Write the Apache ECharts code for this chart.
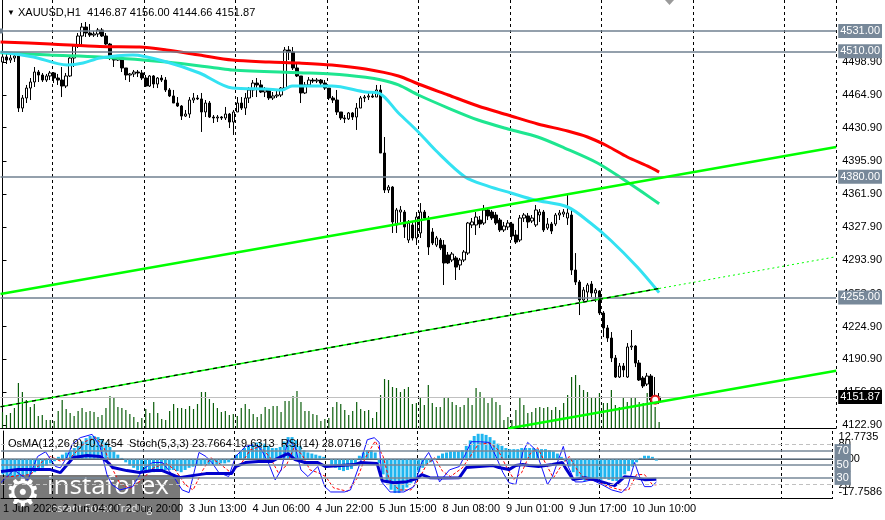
<!DOCTYPE html>
<html>
<head>
<meta charset="utf-8">
<script src="https://cdn.jsdelivr.net/npm/echarts@6/dist/echarts.min.js"></script>
<style>
  html, body { margin: 0; padding: 0; background: #fff; }
  #chart { width: 885px; height: 520px; }
</style>
</head>
<body>
<div id="chart"></div>
<script>
// ---- data ----
const symbolName = 'XAUUSD,H1'
const firstLabel = '1 Jun 2026'
const timeLabels = ['1 Jun 12:00', '2 Jun 04:00', '2 Jun 20:00', '3 Jun 13:00', '4 Jun 06:00', '4 Jun 22:00',
  '5 Jun 15:00', '8 Jun 08:00', '9 Jun 01:00', '9 Jun 17:00', '10 Jun 10:00']
const priceTicks = [4122.9, 4156.9, 4190.9, 4224.9, 4258.9, 4293.9, 4327.9, 4361.9, 4395.9, 4430.9, 4464.9, 4498.9]
const hLevels = [4531, 4510, 4380, 4255]
const oscLevels = [70, 50, 30]
const stochLevels = [80, 20]
const osmaScale = [12.7735, 0, -17.7586]
const osmaNow = -0.7454
const stochNow = [23.7664, 19.6313]
const rsiNow = 28.0716

// open, close, low, high
const candles = [
  [4498.9,4504.1,4488.5,4507.2],[4504.1,4500.9,4496.8,4508.2],[4500.9,4503.0,4497.8,4506.1],[4503.0,4505.1,4498.9,4509.2],
  [4505.1,4451.2,4447.1,4508.2],[4451.2,4461.6,4447.1,4464.7],[4461.6,4471.9,4456.4,4475.1],[4471.9,4478.2,4459.5,4482.3],
  [4478.2,4488.5,4473.0,4493.7],[4488.5,4485.4,4478.2,4490.6],[4485.4,4480.2,4478.2,4487.5],[4480.2,4484.4,4478.2,4486.5],
  [4484.4,4487.5,4480.2,4489.6],[4487.5,4482.3,4477.1,4488.5],[4482.3,4480.2,4475.1,4486.5],[4480.2,4474.0,4462.6,4493.7],
  [4474.0,4484.4,4471.9,4487.5],[4484.4,4503.0,4483.3,4505.1],[4503.0,4515.4,4493.7,4517.5],[4515.4,4525.8,4513.4,4528.9],
  [4525.8,4535.1,4516.5,4539.3],[4535.1,4528.9,4524.8,4540.3],[4528.9,4526.8,4524.8,4538.2],[4526.8,4527.9,4524.8,4531.0],
  [4527.9,4532.0,4524.8,4534.1],[4532.0,4525.8,4524.8,4534.1],[4525.8,4517.5,4516.5,4528.9],[4517.5,4503.0,4500.9,4518.6],
  [4503.0,4500.9,4493.7,4506.1],[4500.9,4503.0,4499.9,4504.1],[4503.0,4492.7,4488.5,4504.1],[4492.7,4485.4,4480.2,4492.7],
  [4485.4,4486.5,4478.2,4487.5],[4486.5,4488.5,4483.3,4490.6],[4488.5,4487.5,4483.3,4490.6],[4487.5,4482.3,4480.2,4490.6],
  [4482.3,4474.0,4473.0,4485.4],[4474.0,4484.4,4473.0,4485.4],[4484.4,4476.1,4471.9,4485.4],[4476.1,4482.3,4471.9,4483.3],
  [4482.3,4480.2,4478.2,4485.4],[4480.2,4469.9,4467.8,4483.3],[4469.9,4463.7,4462.6,4471.9],[4463.7,4456.4,4456.4,4469.9],
  [4456.4,4453.3,4452.3,4462.6],[4453.3,4442.9,4438.8,4454.3],[4442.9,4445.0,4441.9,4449.2],[4445.0,4459.5,4440.9,4462.6],
  [4459.5,4461.6,4456.4,4466.8],[4461.6,4460.6,4459.5,4464.7],[4460.6,4447.1,4426.4,4466.8],[4447.1,4456.4,4441.9,4459.5],
  [4456.4,4441.9,4440.9,4458.5],[4441.9,4440.9,4435.7,4444.0],[4440.9,4441.9,4436.7,4444.0],[4441.9,4440.9,4438.8,4442.9],
  [4440.9,4445.0,4438.8,4452.3],[4445.0,4436.7,4430.5,4446.1],[4436.7,4447.1,4423.3,4449.2],[4447.1,4456.4,4447.1,4462.6],
  [4456.4,4451.2,4449.2,4462.6],[4451.2,4461.6,4444.0,4466.8],[4461.6,4469.9,4456.4,4473.0],[4469.9,4477.1,4462.6,4480.2],
  [4477.1,4475.1,4462.6,4482.3],[4475.1,4467.8,4466.8,4480.2],[4467.8,4469.9,4462.6,4473.0],[4469.9,4461.6,4459.5,4471.9],
  [4461.6,4463.7,4459.5,4467.8],[4463.7,4464.7,4461.6,4469.9],[4464.7,4471.9,4462.6,4473.0],[4471.9,4511.3,4471.9,4514.4],
  [4511.3,4509.2,4500.9,4515.4],[4509.2,4492.7,4490.6,4514.4],[4492.7,4484.4,4483.3,4498.9],[4484.4,4466.8,4456.4,4484.4],
  [4466.8,4475.1,4465.7,4478.2],[4475.1,4480.2,4473.0,4483.3],[4480.2,4479.2,4477.1,4482.3],[4479.2,4480.2,4477.1,4482.3],
  [4480.2,4477.1,4473.0,4481.3],[4477.1,4471.9,4469.9,4480.2],[4471.9,4461.6,4459.5,4471.9],[4461.6,4459.5,4456.4,4463.7],
  [4459.5,4447.1,4444.0,4469.9],[4447.1,4440.9,4438.8,4447.1],[4440.9,4440.0,4435.7,4444.0],[4440.0,4446.1,4438.8,4447.1],
  [4446.1,4441.9,4438.8,4447.1],[4441.9,4451.2,4428.5,4456.4],[4451.2,4461.6,4451.2,4463.7],[4461.6,4462.6,4457.4,4464.7],
  [4462.6,4463.7,4459.5,4466.8],[4463.7,4462.6,4461.6,4466.8],[4462.6,4469.9,4462.6,4475.1],[4469.9,4404.6,4404.6,4475.1],
  [4404.6,4366.3,4363.2,4421.2],[4366.3,4369.4,4363.2,4371.5],[4369.4,4333.2,4321.8,4370.4],[4330.1,4345.6,4321.8,4347.7],
  [4343.5,4345.6,4333.2,4349.7],[4343.5,4328.0,4316.6,4345.6],[4314.5,4332.1,4311.4,4335.2],[4330.1,4316.6,4314.0,4333.2],
  [4316.6,4338.3,4309.3,4343.5],[4321.8,4343.5,4316.6,4352.8],[4343.5,4337.3,4335.2,4345.6],[4335.2,4307.3,4299.0,4339.4],
  [4322.8,4311.4,4309.3,4326.9],[4309.3,4316.6,4307.3,4318.7],[4314.5,4306.2,4304.1,4316.6],[4309.3,4290.7,4267.9,4314.5],
  [4299.0,4290.7,4289.6,4302.1],[4293.8,4300.0,4291.7,4302.1],[4295.9,4286.5,4273.1,4297.9],[4288.6,4293.8,4283.4,4295.9],
  [4293.8,4302.1,4291.7,4304.1],[4301.0,4332.1,4299.0,4333.2],[4330.1,4333.2,4326.9,4337.3],[4330.1,4338.3,4319.7,4343.5],
  [4335.2,4331.1,4326.9,4339.4],[4332.1,4345.6,4330.1,4350.8],[4345.6,4339.4,4335.2,4347.7],[4343.5,4337.3,4335.2,4345.6],
  [4340.4,4332.1,4330.1,4343.5],[4335.2,4324.9,4322.8,4337.3],[4324.9,4329.0,4322.8,4333.2],[4328.0,4332.1,4324.9,4335.2],
  [4331.1,4318.7,4314.5,4333.2],[4319.7,4312.4,4310.4,4324.9],[4314.5,4337.3,4312.4,4340.4],[4337.3,4340.4,4333.2,4342.5],
  [4339.4,4333.2,4326.9,4342.5],[4334.2,4337.3,4332.1,4340.4],[4330.1,4345.6,4328.0,4350.8],[4340.4,4343.5,4333.2,4346.6],
  [4343.5,4324.9,4322.8,4345.6],[4326.9,4331.1,4324.9,4337.3],[4331.1,4323.8,4320.7,4333.2],[4331.1,4340.4,4329.0,4342.5],
  [4340.4,4342.5,4335.2,4345.6],[4341.4,4343.5,4338.3,4346.6],[4337.3,4342.5,4330.1,4363.2],[4340.4,4283.4,4278.3,4345.6],
  [4283.4,4271.0,4267.9,4301.0],[4271.0,4252.4,4236.8,4273.1],[4252.4,4262.7,4250.3,4265.8],[4260.6,4267.9,4250.3,4270.0],
  [4268.9,4259.6,4255.5,4272.0],[4259.6,4262.7,4250.3,4264.8],[4261.7,4238.9,4236.8,4262.7],[4238.9,4223.4,4214.0,4240.9],
  [4223.4,4213.0,4208.9,4226.5],[4213.0,4192.3,4188.1,4219.2],[4192.3,4172.6,4171.6,4195.4],[4172.6,4184.0,4171.6,4187.1],
  [4184.0,4179.9,4172.6,4187.1],[4172.6,4203.7,4171.6,4207.8],[4203.7,4204.7,4200.6,4221.3],[4204.7,4187.1,4182.9,4205.7],
  [4187.1,4169.5,4168.5,4190.2],[4171.6,4163.3,4161.2,4173.6],[4165.3,4173.6,4163.3,4176.8],[4173.6,4148.8,4146.7,4175.7],
  [4150.8,4148.8,4145.7,4172.6],[4146.87,4151.87,4144.66,4156.00]
]

const volumes = [16,13,15,20,45,36,28,21,24,12, 13,8,8,7,17,28,19,15,12,17, 20,16,17,16,11,13,20,32,30,21,
  20,18,14,11,6,10,19,15,26,15, 9,8,17,24,20,20,19,22,19,24, 36,36,29,25,20,16,17,13,14,12,
  20,24,19,14,11,14,21,19,22,22, 16,27,27,32,37,26,17,17,14,13, 7,9,10,21,26,24,18,13,17,26,
  19,17,18,10,16,33,49,48,41,40, 36,39,41,24,25,31,23,43,25,21, 21,31,31,26,23,21,23,30,23,40,
  36,31,25,30,26,23,8,11,8,18, 30,23,15,16,20,21,20,21,18,21, 18,25,33,51,53,43,38,36,30,31,
  35,25,25,38,23,21,30,26,30,31, 26,25,35,31,21,6]

// moving averages, [bar, price]
const maRed = [[-0.5,4519.6],[12,4517.5],[24.5,4514.9],[34.5,4514.4],[41.25,4511.3],[49.5,4506.1],[57.75,4500.9],
  [67,4498.9],[74.5,4497.8],[82.75,4495.8],[91.25,4491.6],[99.5,4484.4],[104.5,4476.1],[112,4464.7],[119.5,4453.3],
  [127,4444.0],[134.5,4434.7],[142,4427.4],[147,4421.2],[152,4411.9],[157,4400.5],[162,4391.2],[165,4384.9]]
const maGreen = [[-0.5,4508.5],[12,4506.1],[24.5,4504.1],[41.25,4498.9],[53.75,4492.7],[57.75,4490.6],[74.5,4487.8],
  [82.75,4486.5],[91.25,4483.0],[95.25,4480.2],[99.5,4475.1],[104.5,4464.7],[112,4451.2],[119.5,4438.8],[127,4429.5],
  [134.5,4421.2],[141.25,4409.8],[149.5,4394.3],[156.25,4376.7],[160.75,4364.2],[165,4352.0]]
const maCyan = [[-0.5,4509.2],[7.75,4504.1],[16.25,4495.8],[20.25,4497.8],[24.5,4503.0],[32.75,4506.1],[41.25,4498.9],
  [49.5,4487.5],[57.75,4471.9],[66.25,4470.9],[70.25,4469.9],[72.75,4474.0],[82.75,4474.0],[91.25,4467.8],[94.5,4466.8],
  [99.5,4446.1],[104.5,4426.4],[108.75,4407.7],[116.25,4379.8],[122,4370.4],[127.75,4363.2],[133.75,4355.9],
  [142,4348.7],[147.75,4332.1],[152.75,4314.5],[159.5,4286.5],[165,4260.0]]

// trend lines, [bar, price]
const trendUpper = [[-0.5, 4258.6], [209.5, 4410.9]]
const trendMiddle = [[-0.5, 4141.8], [165, 4264.3]]
const trendMiddleExt = [[165, 4264.3], [209.5, 4297.2]]
const trendLower = [[127, 4119.3], [209.5, 4179.1]]
const alertMark = [164, 4149.0]

// oscillators
const osma = [-7,-7.5,-8,-8,-8.5,-8,-7.5,-7,-6, -5,-4,-3,-2,-1, 1,2,3,4,5,
  6,8,9.5,10.5,10.5,10,9,7.5,5.5, 3.5,2,0.5,
  -1.5,-3,-4,-5,-5.5,-6,-6,-6,-5.5,-5,-5,-5,-5,-5.5,-6,
  -5,-4,-3.5,-3,-3,-2.5,-2.5,-2.5,-2.5,-2,-2,-1.5,
  0.5,2,3.5,5,6,7,7.5,7.5,7,6, 5,5,5.5,8,10,10,8.5,6, 4,3,2.5,2,1.5,1,0,
  -3,-4,-5,-5.5,-5,-4.5,-3, 1.5,3,4,4,3,
  -2,-7,-11,-14,-15.5,-15.5,-14.5,-13,-11, -8.5,-6,-4,-2.5,-1.5,-0.5,
  1.5,2.5,3,3.5,3.5,3.5,4, 6,8.5,10.5,11.5,11.5,11,10,8.5,7,6,
  5,4.5,4.5,4.5,5,5,5,5,4.5,4.5,4.5,4,3.5,2.5, 1,-1,
  -3.5,-6,-8,-9.5,-10,-10,-9.5,-9.5,-9.5,-9,-9.5,-10,-10,-9,-7,-5.5,
  -3.5,-1.5,0.5,1.5,1.5,1,-0.7454]

const stochMain = [[-0.5,23],[2.75,42],[6.25,27],[8.75,62],[10.75,69],[13.25,47],[14.5,45],[16.25,62],[17.5,80],
  [19.5,90],[22.5,95],[24.5,77],[26.25,35],[27.5,20],[29.5,12],[32.75,17],[35.25,42],[37.75,53],[40.25,53],
  [42.75,35],[45.25,12],[47,8],[49.5,68],[51.25,62],[52.75,53],[54.5,38],[57,32],[58.75,62],[61.25,77],[63.75,80],
  [65.25,72],[67,53],[68.75,27],[70.25,42],[72,87],[73.75,77],[75.25,42],[77,32],[79.5,47],[81.25,17],[82.75,9],
  [86.25,9],[87.75,12],[90.25,53],[92,87],[93.75,90],[95,83],[95.75,23],[97.75,9],[101.25,9],[103.75,17],
  [105.75,53],[107.5,68],[108.75,53],[110.25,24],[112.75,42],[115.25,47],[117,68],[118.25,84],[120.25,84],
  [122.75,83],[124.5,62],[126.25,38],[127.75,23],[129.5,20],[131.25,68],[132.5,83],[134.5,72],[136.25,42],
  [137.5,20],[138.75,32],[140.25,57],[141.5,77],[142.75,47],[144.5,24],[146.25,24],[148.75,27],[151.25,20],
  [153.75,12],[156.25,8],[157.75,17],[159.5,53],[160.75,32],[162,17],[163.75,17],[165,23.77]]
const stochSignal = [[-0.5,30],[3.5,33],[7,35],[10,55],[12,62],[14.5,55],[17,60],[19,72],[21,85],[23.5,90],
  [25.5,75],[27.5,45],[29.5,22],[32,14],[35,27],[38,45],[41,52],[43.5,42],[46,20],[48,12],[50.5,42],[52.5,60],
  [55,50],[57.5,38],[60,50],[62.5,72],[65,77],[67.5,60],[69.5,38],[71.5,48],[73.5,75],[75.5,65],[77.5,42],
  [79.5,38],[81.5,32],[83.5,15],[87,10],[89.5,30],[91.5,60],[94,85],[96,62],[97.5,28],[100,12],[103,12],
  [105,28],[107,50],[109,60],[111,40],[113,32],[116,45],[118,62],[120,80],[123,82],[125,72],[127,48],[129,28],
  [131,38],[133,65],[135,75],[137,52],[139,30],[141,48],[143,62],[145,42],[147,28],[150,25],[153,17],[156,12],
  [158,12],[160,35],[162,35],[164,20],[165,19.63]]
const rsi = [[-0.5,39.4],[3.75,42.4],[7.75,42.4],[12,42.4],[14.5,37.9],[16.25,49.9],[17.75,60.4],[21.25,63.4],
  [24.5,61.9],[26.25,54.4],[27.75,45.4],[31.25,40.9],[34.5,37.9],[37.75,40.9],[40.25,40.9],[42.75,34.9],
  [44.5,30.4],[47.75,33.4],[51.25,36.4],[54.5,36.4],[57.75,36.4],[58.75,46.9],[61.25,52.9],[64.5,54.4],
  [67.75,54.4],[70.25,61.9],[72,66.4],[73.75,57.4],[76.25,52.9],[79.5,52.9],[81.5,46.9],[85.25,48.4],
  [88.75,49.9],[90.25,52.9],[94.5,51.4],[95.75,25.9],[98.75,22.9],[102,24.4],[104.5,28.9],[105.75,34.9],
  [107.75,30.4],[111.25,29.7],[115.25,30.4],[117,45.4],[120.25,46.9],[123.75,48.4],[125.25,45.4],[127.75,42.4],
  [129.5,48.4],[131.25,49.9],[132.75,48.4],[135.25,46.9],[138.75,49.9],[141.25,52.9],[142,45.4],[144,27.4],
  [147,30.4],[150.25,25.9],[152.75,21.4],[154.5,18.4],[157,31.9],[159.5,30.4],[162,27.4],[165,28.07]]

// ---- hourly bar times (gold: no 00:00 bar, no weekend) ----
const times = []
let t = Date.UTC(2026, 5, 1, 12)
while (times.length < 210) {
  const d = new Date(t)
  const day = d.getUTCDay(), h = d.getUTCHours()
  if (day !== 0 && day !== 6 && h !== 0) {
    times.push(d.getUTCDate() + ' Jun ' + String(h).padStart(2, '0') + ':00')
  }
  t += 3600000
}

const FONT = '"Liberation Sans Narrow", "Liberation Sans", Arial, sans-serif'
const FS = 11
const gridLine = (i) => i % 23 === 13
const last = candles[candles.length - 1]
const header = '{tri|▼} ' + symbolName + '  ' + last[0].toFixed(2) + ' ' + last[3].toFixed(2) + ' ' +
  last[2].toFixed(2) + ' ' + last[1].toFixed(2)
const oscHeader = 'OsMA(12,26,9) ' + osmaNow.toFixed(4) + '  Stoch(5,3,3) ' + stochNow[0].toFixed(4) + ' ' +
  stochNow[1].toFixed(4) + '  RSI(14) ' + rsiNow.toFixed(4)

const boxLabel = (txt, bg) => ({
  show: true, position: 'end', distance: 2, formatter: txt,
  backgroundColor: bg, color: '#fff', padding: [2, 2, 1, 2], fontSize: FS, fontFamily: FONT
})

const chart = echarts.init(document.getElementById('chart'))

const option = {
  animation: false,
  backgroundColor: '#fff',
  textStyle: { fontFamily: FONT },
  title: [
    { left: 2, top: 2, text: header,
      textStyle: { fontSize: FS, fontWeight: 'normal', color: '#000', fontFamily: FONT,
        rich: { tri: { fontSize: 8, color: '#000' } } } },
    { left: 3, top: 433, text: oscHeader,
      textStyle: { fontSize: FS, fontWeight: 'normal', color: '#000', fontFamily: FONT } }
  ],
  grid: [
    { left: 0.5, right: 44.5, top: 0, height: 428 },
    { left: 0.5, right: 44.5, top: 431, height: 67 }
  ],
  xAxis: [
    { type: 'category', gridIndex: 0, data: times,
      axisLine: { show: true, lineStyle: { color: '#000' } }, axisTick: { show: false }, axisLabel: { show: false },
      splitLine: { show: true, interval: gridLine, lineStyle: { color: '#000', type: [3, 3] } } },
    { type: 'value', gridIndex: 0, min: -0.5, max: 209.5, show: false },
    { type: 'category', gridIndex: 1, data: times,
      axisLine: { show: true, lineStyle: { color: '#000' } }, axisTick: { show: false },
      axisLabel: { show: true, interval: (i, v) => timeLabels.includes(v), formatter: v => v === times[0] ? firstLabel : v,
        align: 'left', margin: 5, color: '#000', fontSize: FS },
      splitLine: { show: true, interval: gridLine, lineStyle: { color: '#000', type: [3, 3] } } },
    { type: 'value', gridIndex: 1, min: -0.5, max: 209.5, position: 'top',
      axisLine: { show: true, lineStyle: { color: '#000' } }, axisTick: { show: false }, axisLabel: { show: false },
      splitLine: { show: false } }
  ],
  yAxis: [
    { type: 'value', gridIndex: 0, position: 'right', min: 4119.8, max: 4563.1,
      axisLine: { show: true, lineStyle: { color: '#000' } },
      axisTick: { show: true, customValues: priceTicks, length: 4, lineStyle: { color: '#000' } },
      axisLabel: { customValues: priceTicks, formatter: v => v.toFixed(2), color: '#000', fontSize: FS, margin: 6 },
      splitLine: { show: false } },
    { type: 'value', gridIndex: 0, min: 0, max: 428, show: false },
    { type: 'value', gridIndex: 1, position: 'right', min: 0, max: 100,
      axisLine: { show: true, lineStyle: { color: '#000' } }, axisTick: { show: false },
      axisLabel: { customValues: stochLevels, color: '#000', fontSize: FS, margin: 6 },
      splitLine: { show: false } },
    { type: 'value', gridIndex: 1, position: 'right', min: -17.7586, max: 12.7735,
      axisLine: { show: false }, axisTick: { show: false },
      axisLabel: { customValues: osmaScale, color: '#000', fontSize: FS, margin: 6,
        formatter: v => v === 0 ? '0.00' : (v > 0 ? '{t|' + v.toFixed(4) + '}' : '{b|' + v.toFixed(4) + '}'),
        rich: { t: { padding: [12, 0, 0, 0], fontSize: FS }, b: { padding: [0, 0, 12, 0], fontSize: FS } } },
      splitLine: { show: false } }
  ],
  series: [
    { name: 'Volume', type: 'bar', xAxisIndex: 0, yAxisIndex: 1, data: volumes, barWidth: 1.2,
      itemStyle: { color: '#0b5e0b' }, z: 1 },
    { name: 'XAUUSD', type: 'candlestick', xAxisIndex: 0, yAxisIndex: 0, data: candles, barWidth: 3,
      itemStyle: { color: '#fff', color0: '#000', borderColor: '#000', borderColor0: '#000', borderWidth: 1 },
      z: 3,
      markLine: {
        silent: true, symbol: 'none',
        data: hLevels.map((v, k) => ({
          yAxis: v,
          symbol: k === 0 ? ['emptyRect', 'emptyRect'] : 'none', symbolSize: 5,
          lineStyle: { color: '#708090', width: 1.5, type: 'solid' },
          label: boxLabel(v.toFixed(2), '#778899')
        })).concat([{
          yAxis: last[1], lineStyle: { color: '#c0c0c0', width: 1, type: 'solid' },
          label: boxLabel(last[1].toFixed(2), '#000')
        }])
      },
      markPoint: {
        silent: true, symbol: 'emptyCircle', symbolSize: 8,
        itemStyle: { color: '#e02020', borderWidth: 1 }, label: { show: false },
        data: [{ coord: [times[alertMark[0]], alertMark[1]] }]
      } },
    { name: 'MA slow', type: 'line', xAxisIndex: 1, yAxisIndex: 0, data: maRed, smooth: 0.3, symbol: 'none',
      lineStyle: { color: '#ff0000', width: 3 }, z: 4 },
    { name: 'MA mid', type: 'line', xAxisIndex: 1, yAxisIndex: 0, data: maGreen, smooth: 0.3, symbol: 'none',
      lineStyle: { color: '#1ee690', width: 3 }, z: 4 },
    { name: 'MA fast', type: 'line', xAxisIndex: 1, yAxisIndex: 0, data: maCyan, smooth: 0.3, symbol: 'none',
      lineStyle: { color: '#33e2f2', width: 3 }, z: 4 },
    { name: 'Trend upper', type: 'line', xAxisIndex: 1, yAxisIndex: 0, data: trendUpper, symbol: 'none',
      lineStyle: { color: '#00ff00', width: 2.5 }, z: 5 },
    { name: 'Trend middle', type: 'line', xAxisIndex: 1, yAxisIndex: 0, data: trendMiddle, symbol: 'none',
      lineStyle: { color: '#00ff00', width: 1.5 }, z: 5 },
    { name: 'Trend middle dash', type: 'line', xAxisIndex: 1, yAxisIndex: 0, data: trendMiddle, symbol: 'none',
      lineStyle: { color: '#000', width: 1.2, type: [4, 4] }, z: 5 },
    { name: 'Trend middle ext', type: 'line', xAxisIndex: 1, yAxisIndex: 0, data: trendMiddleExt, symbol: 'none',
      lineStyle: { color: '#00ff00', width: 1, type: [2, 3] }, z: 5 },
    { name: 'Trend lower', type: 'line', xAxisIndex: 1, yAxisIndex: 0, data: trendLower, symbol: 'none',
      lineStyle: { color: '#00ff00', width: 2.5 }, z: 5, clip: true },

    { name: 'OsMA', type: 'bar', xAxisIndex: 2, yAxisIndex: 3, data: osma, barWidth: 3,
      itemStyle: { color: '#1fb5ef' }, z: 2,
      markLine: { silent: true, symbol: 'none', label: { show: false },
        data: [{ yAxis: 0, lineStyle: { color: '#778899', width: 1.5, type: 'solid' } }] } },
    { name: 'Stoch signal', type: 'line', xAxisIndex: 3, yAxisIndex: 2, data: stochSignal, symbol: 'none',
      lineStyle: { color: '#ff0000', width: 1, type: [3, 2] }, z: 3 },
    { name: 'Stoch', type: 'line', xAxisIndex: 3, yAxisIndex: 2, data: stochMain, symbol: 'none',
      lineStyle: { color: '#1010ff', width: 1 }, z: 3,
      markLine: { silent: true, symbol: 'none', label: { show: false },
        data: stochLevels.map(v => ({ yAxis: v, lineStyle: { color: '#c0c0c0', width: 1, type: [4, 3] } })) } },
    { name: 'RSI', type: 'line', xAxisIndex: 3, yAxisIndex: 2, data: rsi, symbol: 'none',
      lineStyle: { color: '#0000cd', width: 3 }, z: 4,
      markLine: { silent: true, symbol: 'none',
        data: oscLevels.map(v => ({ yAxis: v, lineStyle: { color: '#778899', width: 1.5, type: 'solid' },
          label: boxLabel(String(v), '#778899') })) } }
  ],
  graphic: [
    { type: 'polygon', shape: { points: [[665, 0], [674, 0], [669.5, 5]] }, style: { fill: '#9a9a9a' }, z: 50 },
    { type: 'group', z: 100, children: [
      { type: 'rect', left: 0, top: 475, shape: { width: 180, height: 45 }, style: { fill: 'rgba(92,92,92,0.82)' } },
      { type: 'text', left: 5, top: 476, style: { text: '⚙', fontSize: 40, fill: '#fff', fontFamily: 'DejaVu Sans' } },
      { type: 'text', left: 47, top: 474, style: { text: 'instaforex', fontSize: 26, fill: '#fff', fontFamily: '"Open Sans"' } },
      { type: 'text', left: 48, top: 504, style: { text: 'Instant Forex Trading', fontSize: 10.5, fill: '#eee', fontFamily: '"Open Sans"' } }
    ] }
  ]
}

chart.setOption(option)
</script>
</body>
</html>
